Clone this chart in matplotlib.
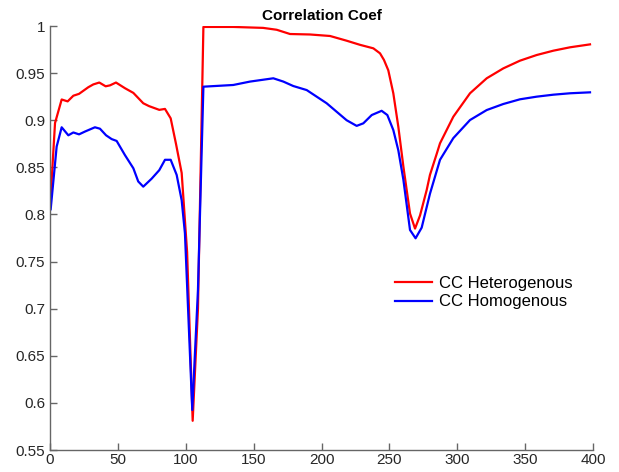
import matplotlib
matplotlib.use("Agg")
import matplotlib.pyplot as plt

plt.rcParams['font.family'] = ['Liberation Sans', 'DejaVu Sans']

title = "Correlation Coef"
label_het = "CC Heterogenous"
label_hom = "CC Homogenous"

het_x = [0.5, 3.7, 8.6, 13, 17.2, 21.4, 28.2, 31.9, 36.3, 41, 44.2, 48.6, 55.2, 61.4,
         68.7, 72.9, 78.6, 80.5, 84.7, 88.9, 92.8, 97, 101, 105.1, 109, 113,
         135, 157, 167, 176.8, 191.5, 206.3, 218.5, 228.4, 238.2, 243.1, 246, 249.2,
         252.9, 256.6, 260.3, 265.2, 268.9, 272.6, 277.5, 279.9, 284.8, 287.3, 297.1,
         309.4, 321.7, 333.9, 346.2, 358.5, 370.8, 383.1, 397.8]
het_y = [0.819, 0.897, 0.922, 0.920, 0.926, 0.928, 0.935, 0.938, 0.940, 0.936, 0.937,
         0.940, 0.934, 0.929, 0.918, 0.915, 0.912, 0.911, 0.912, 0.902, 0.875, 0.844,
         0.76, 0.581, 0.70, 0.999,
         0.999, 0.998, 0.996, 0.9915, 0.991, 0.9894, 0.9844, 0.980, 0.9763, 0.971, 0.964,
         0.953, 0.9286, 0.893, 0.851, 0.801, 0.785, 0.799, 0.826, 0.842, 0.864, 0.8755,
         0.9037, 0.9286, 0.9445, 0.955, 0.9632, 0.9692, 0.9738, 0.9774, 0.9805]

hom_x = [0.5, 4.9, 8.6, 13.5, 17.2, 21.4, 25.8, 33.1, 36.8, 41.3, 45.4, 49.1, 55.2, 61.4,
         65, 68.7, 74.9, 80.5, 84.7, 88.9, 93.3, 97, 99.4, 104.8, 109, 113,
         135, 147.3, 164.5, 171.9, 179.2, 189.1, 203.8, 218.5, 225.9, 230.8, 237, 244.3,
         248.5, 252.9, 256.6, 260.3, 265.2, 269.3, 273.8, 279.9, 287.3, 297.1, 309.4,
         321.7, 333.9, 346.2, 358.5, 370.8, 383.1, 397.8]
hom_y = [0.8055, 0.872, 0.8925, 0.884, 0.887, 0.885, 0.888, 0.8925, 0.891, 0.884, 0.880,
         0.878, 0.863, 0.849, 0.835, 0.8295, 0.838, 0.847, 0.858, 0.858, 0.842, 0.815,
         0.780, 0.5925, 0.72, 0.9356,
         0.9374, 0.941, 0.9445, 0.941, 0.9363, 0.932, 0.918, 0.900, 0.894, 0.8967, 0.9055,
         0.910, 0.9055, 0.8896, 0.868, 0.837, 0.7835, 0.7747, 0.786, 0.822, 0.858, 0.881,
         0.9002, 0.9108, 0.9172, 0.9222, 0.925, 0.9271, 0.9286, 0.9296]

x_ticks = [0, 50, 100, 150, 200, 250, 300, 350, 400]
y_ticks = [0.55, 0.6, 0.65, 0.7, 0.75, 0.8, 0.85, 0.9, 0.95, 1.0]
y_tick_labels = ["0.55", "0.6", "0.65", "0.7", "0.75", "0.8", "0.85", "0.9", "0.95", "1"]

fig = plt.figure(figsize=(6.19, 4.72), dpi=100)
ax = fig.add_axes([50/619, 1-450/472, 543/619, 424/472])

ax.plot(het_x, het_y, color=(1, 0, 0), lw=1.6, label=label_het)
ax.plot(hom_x, hom_y, color=(0, 0, 1), lw=1.6, label=label_hom)

ax.set_xlim(0, 400)
ax.set_ylim(0.55, 1.0)
ax.set_xticks(x_ticks)
ax.set_xticklabels([str(t) for t in x_ticks])
ax.set_yticks(y_ticks)
ax.set_yticklabels(y_tick_labels)

for s in ['top', 'right']:
    ax.spines[s].set_visible(False)
for s in ['left', 'bottom']:
    ax.spines[s].set_color('#666666')
    ax.spines[s].set_linewidth(1.0)
ax.tick_params(direction='in', length=5, width=1.0, color='#666666',
               labelcolor='#262626', labelsize=11)
ax.tick_params(axis='x', pad=2)

ax.set_title(title, fontsize=11, fontweight='bold', pad=4)

leg = ax.legend(loc='upper left', bbox_to_anchor=((395-50)/543, (450-276)/424),
                frameon=False, fontsize=12, handlelength=2.2, handletextpad=0.45,
                labelspacing=0.2, borderaxespad=0, borderpad=0)

fig.savefig("out.png", dpi=100)
